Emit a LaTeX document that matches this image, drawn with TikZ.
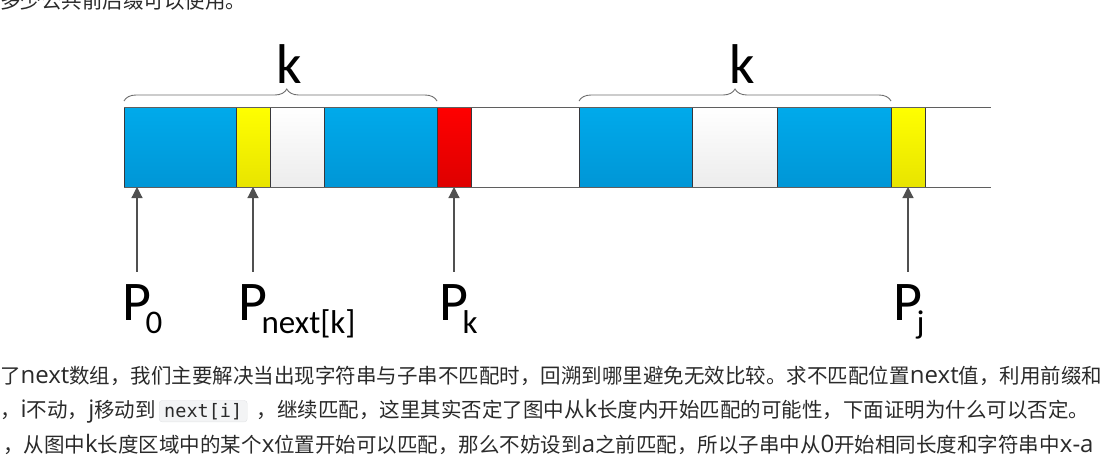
\documentclass[tikz,border=0pt]{standalone}
\usepackage{fontspec}
\newfontfamily\carlito{Carlito}
\newfontfamily\cjk{Noto Sans CJK SC}
\newfontfamily\latfont{Open Sans}
\newfontfamily\codefont{DejaVu Sans Mono}
\usetikzlibrary{positioning}
\usetikzlibrary{arrows.meta}
\usetikzlibrary{decorations.pathreplacing}

\definecolor{blueTop}{RGB}{0,170,235}
\definecolor{blueBot}{RGB}{0,150,214}
\definecolor{yellowTop}{RGB}{255,255,0}
\definecolor{yellowBot}{RGB}{232,228,0}
\definecolor{redTop}{RGB}{255,0,0}
\definecolor{redBot}{RGB}{222,0,0}
\definecolor{whiteBot}{RGB}{236,236,236}
\definecolor{segline}{RGB}{55,55,60}
\definecolor{bandgray}{RGB}{95,95,95}
\definecolor{bracegray}{RGB}{110,110,110}
\definecolor{arrowgray}{RGB}{80,80,80}
\definecolor{textgray}{RGB}{42,42,42}
\definecolor{codebg}{RGB}{243,244,245}
\definecolor{codeline}{RGB}{226,228,230}

% Latin runs inside the Chinese text, and lowered pointer indices
\newcommand{\lat}[1]{{\latfont\fontsize{24}{28}\selectfont #1}}
\newcommand{\pidx}[1]{\kern-6pt\raisebox{-13pt}{\fontsize{33}{33}\selectfont #1}}

\begin{document}
\begin{tikzpicture}[x=1pt,y=-1pt]
% Style definitions
\tikzset{
    segbox/.style={draw=segline, line width=0.8pt, minimum height=80pt,
                inner sep=0pt, outer sep=0pt, anchor=north west},
    prefixbox/.style={segbox, top color=blueTop, bottom color=blueBot},
    hitbox/.style={segbox, top color=yellowTop, bottom color=yellowBot},
    missbox/.style={segbox, top color=redTop, bottom color=redBot},
    gapbox/.style={segbox, top color=white, bottom color=whiteBot},
    bandline/.style={draw=bandgray, line width=0.9pt},
    kbrace/.style={decorate, decoration={brace, amplitude=12pt, aspect=#1},
                  draw=bracegray, line width=0.9pt},
    klabel/.style={font=\carlito\fontsize{56}{56}\selectfont, inner sep=0pt,
                   anchor=base, yshift=18pt},
    plabel/.style={font=\carlito\fontsize{56}{56}\selectfont, inner sep=0pt,
                   anchor=base west},
    ptr/.style={draw=arrowgray, line width=1.2pt, shorten <=12pt,
                -{Triangle[length=11pt, width=11pt]}},
    txt/.style={font=\cjk\fontsize{20.5}{24}\selectfont, text=textgray,
                inner sep=0pt, anchor=base west},
    codebox/.style={font=\codefont\fontsize{18.5}{20}\selectfont, text=textgray, fill=codebg,
                 draw=codeline, rounded corners=3pt, inner xsep=5pt, inner ysep=2.5pt,
                 anchor=base west}
}

\useasboundingbox (0,0) rectangle (1106,459);
\clip (0,0) rectangle (1106,459);

% Text string: first block
\node[prefixbox, minimum width=112pt] (blue1) at (124,107) {};
\node[hitbox, minimum width=34pt, right=0pt of blue1] (ynext) {};
\node[gapbox, minimum width=54pt, right=0pt of ynext] (white1) {};
\node[prefixbox, minimum width=113pt, right=0pt of white1] (blue2) {};
\node[missbox, minimum width=34pt, right=0pt of blue2] (red) {};

% Text string: second block
\node[prefixbox, minimum width=113pt] (blue3) at (579,107) {};
\node[gapbox, minimum width=85pt, right=0pt of blue3] (white2) {};
\node[prefixbox, minimum width=114pt, right=0pt of white2] (blue4) {};
\node[hitbox, minimum width=34pt, right=0pt of blue4] (yj) {};

% Top and bottom edges of the string
\coordinate (bandend) at (991,107);
\draw[bandline] (blue1.north west) -- (bandend);
\draw[bandline] (blue1.south west) -- (bandend |- blue1.south west);

% Braces with k
\draw[kbrace=0.52] ([yshift=6pt]blue1.north west) -- ([yshift=6pt]red.north west)
    node[klabel, pos=0.527] (k1) {k};
\draw[kbrace=0.5] ([yshift=6pt]blue3.north west) -- ([yshift=6pt]yj.north west)
    node[klabel, pos=0.522] (k2) {k};

% Pointer labels (P is centred under its arrow)
\coordinate (at0) at (137,187);
\node[plabel] (p0) at ([xshift=-14.5pt]at0 |- 0,320) {P\pidx{0}};
\node[plabel] (pnext) at ([xshift=-14.5pt]ynext.south |- 0,320) {P\pidx{next[k]}};
\node[plabel] (pk) at ([xshift=-14.5pt]red.south |- 0,320) {P\pidx{k}};
\node[plabel] (pj) at ([xshift=-14.5pt]yj.south |- 0,320) {P\pidx{j}};

% Pointer arrows
\draw[ptr] (at0 |- p0.north) -- (at0);
\draw[ptr] (ynext.south |- pnext.north) -- (ynext.south);
\draw[ptr] (red.south |- pk.north) -- (red.south);
\draw[ptr] (yj.south |- pj.north) -- (yj.south);

% Surrounding page text
\node[txt] (topline) at (0,8) {多少公共前后缀可以使用。};
\node[txt] (line1) at (0,383) {了\lat{next}数组，我们主要解决当出现字符串与子串不匹配时，回溯到哪里避免无效比较。求不匹配位置\lat{next}值，利用前缀和};
\node[txt] (line2a) at (0,417) {，\lat{i}不动，\lat{j}移动到};
\node[codebox] (line2b) at ([xshift=3pt]line2a.base east) {next[i]};
\node[txt] (line2c) at ([xshift=9pt]line2b.base east) {，继续匹配，这里其实否定了图中从\lat{k}长度内开始匹配的可能性，下面证明为什么可以否定。};
\node[txt] (line3) at (3,452) {，从图中\lat{k}长度区域中的某个\lat{x}位置开始可以匹配，那么不妨设到\lat{a}之前匹配，所以子串中从\lat{0}开始相同长度和字符串中\lat{x-a}};

\end{tikzpicture}
\end{document}
